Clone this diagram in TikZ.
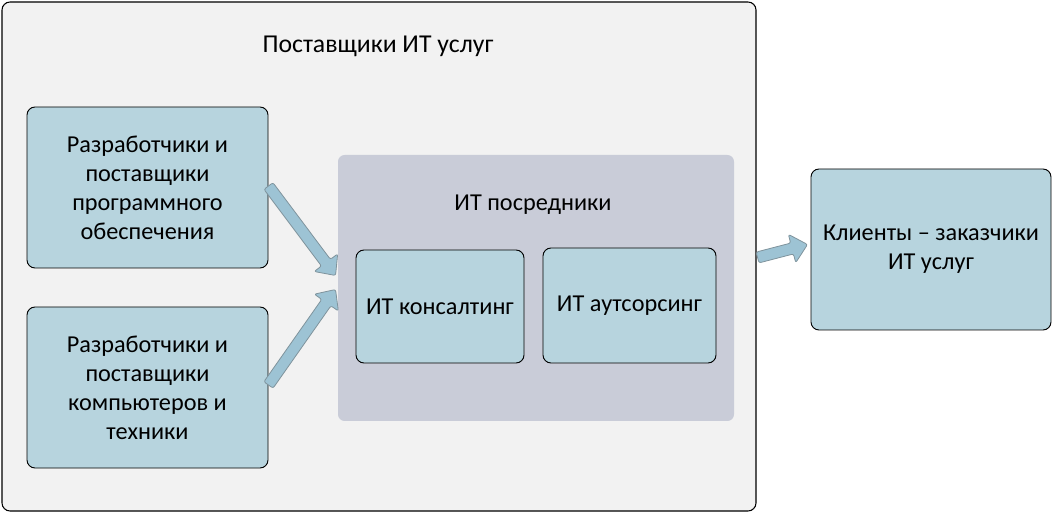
\documentclass[tikz,border=0pt]{standalone}
\usepackage{fontspec}
\setmainfont{Carlito}
\usetikzlibrary{calc}
\definecolor{outerfill}{HTML}{F2F2F2}
\definecolor{grayfill}{HTML}{C9CCD8}
\definecolor{boxfill}{HTML}{B7D4DE}
\definecolor{arrowfill}{HTML}{9DC3D4}
\definecolor{arrowline}{HTML}{7F939C}
\tikzset{
  outerbox/.style={draw=black, line width=0.8pt, fill=outerfill, rounded corners=6pt, minimum width=754*0.75pt, minimum height=509*0.75pt, inner sep=0pt},
  graybox/.style={fill=grayfill, rounded corners=5pt, minimum width=396*0.75pt, minimum height=266*0.75pt, inner sep=0pt},
  bluebox/.style={draw=black, line width=0.7pt, fill=boxfill, rounded corners=6pt, align=center, inner sep=0pt, font=\fontsize{18.2}{21.75}\selectfont},
  lbl/.style={font=\fontsize{18.2}{21.75}\selectfont, inner sep=0pt},
}
% block arrow from #1 to #2
\newcommand{\blockarrow}[2]{%
  \path let \p1=(#1) in coordinate (S) at (\p1);
  \path let \p1=(#2) in coordinate (E) at (\p1);
  \coordinate (H) at ($(E)!12pt!(S)$);
  \draw[draw=arrowline, fill=arrowfill, line width=0.6pt, rounded corners=1.5pt, line join=round]
    ($(S)!4.2pt!90:(E)$) -- ($(H)!4.2pt!90:(E)$) -- ($(H)!11pt!90:(E)$) -- (E)
    -- ($(H)!11pt!-90:(E)$) -- ($(H)!4.2pt!-90:(E)$) -- ($(S)!4.2pt!-90:(E)$) -- cycle;
}
\begin{document}
\begin{tikzpicture}[x=0.75pt, y=-0.75pt]
\useasboundingbox (0,0) rectangle (1054,513);
\node[outerbox] (outer) at (379,256.5) {};
\node[lbl, font=\fontsize{19.3}{22}\selectfont] (title) at (378,46) {Поставщики ИТ услуг};
\node[graybox] (mid) at (536,288) {};
\node[lbl] (midtitle) at (533,205) {ИТ посредники};
\node[bluebox, minimum width=241*0.75pt, minimum height=161*0.75pt] (dev1) at (147.5,187.5)
  {Разработчики и\\поставщики\\программного\\обеспечения};
\node[bluebox, minimum width=241*0.75pt, minimum height=161*0.75pt] (dev2) at (147.5,387.5)
  {Разработчики и\\поставщики\\компьютеров и\\техники};
\node[bluebox, minimum width=168*0.75pt, minimum height=113*0.75pt] (cons) at (440,306.5) {ИТ консалтинг};
\node[bluebox, minimum width=173*0.75pt, minimum height=115*0.75pt] (outs) at (629.5,305.5) {ИТ аутсорсинг};
\node[bluebox, minimum width=240*0.75pt, minimum height=161*0.75pt] (client) at (931,249.5) {Клиенты – заказчики\\ИТ услуг};
\coordinate (a1s) at ($(dev1.east)+(0,-1.5)$);
\coordinate (a1e) at ($(cons.west)+(-20,-31)$);
\coordinate (a2s) at ($(dev2.east)+(0,-2.5)$);
\coordinate (a2e) at ($(cons.west)+(-20,-17)$);
\coordinate (a3s) at ($(outer.east)+(1,1)$);
\coordinate (a3e) at ($(client.west)+(-3,-5)$);
\blockarrow{a1s}{a1e}
\blockarrow{a2s}{a2e}
\blockarrow{a3s}{a3e}
\end{tikzpicture}
\end{document}
